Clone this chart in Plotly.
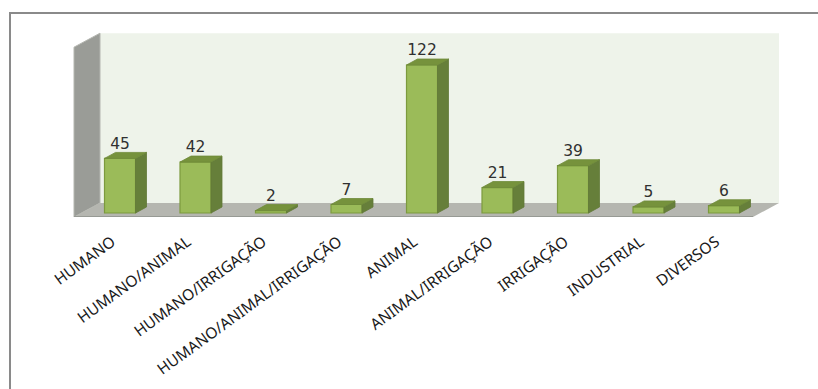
import plotly.graph_objects as go

categories = ["HUMANO", "HUMANO/ANIMAL", "HUMANO/IRRIGAÇÃO", "HUMANO/ANIMAL/IRRIGAÇÃO",
              "ANIMAL", "ANIMAL/IRRIGAÇÃO", "IRRIGAÇÃO", "INDUSTRIAL", "DIVERSOS"]
values = [45, 42, 2, 7, 122, 21, 39, 5, 6]

# Canvas and scale factors for the oblique 3D look
W, H = 818, 389
PX_PER_CAT = 75.5
PX_PER_UNIT = 1.213
AXIS_BOTTOM_PX = 217
ZERO_PX = 213
FIRST_CENTER_PX = 120

BAR_WIDTH = 31 / PX_PER_CAT
BAR_DX = 11 / PX_PER_CAT
BAR_DY = 6 / PX_PER_UNIT

FLOOR_X0 = (74 - FIRST_CENTER_PX) / PX_PER_CAT
FLOOR_X1 = (753 - FIRST_CENTER_PX) / PX_PER_CAT
FLOOR_Y0 = -(AXIS_BOTTOM_PX - ZERO_PX) / PX_PER_UNIT
FLOOR_DX = 26 / PX_PER_CAT
FLOOR_DY = 14 / PX_PER_UNIT
WALL_HEIGHT = 140

FRAME_LEFT_PX = 10
FRAME_TOP_PX = 13

x_idx = list(range(len(categories)))

x_range = [-FIRST_CENTER_PX / PX_PER_CAT, (W - FIRST_CENTER_PX) / PX_PER_CAT]
y_range = [FLOOR_Y0, ZERO_PX / PX_PER_UNIT]


def poly(points, **kw):
    path = "M " + " L ".join(f"{x},{y}" for x, y in points) + " Z"
    return dict(type="path", path=path, xref="x", yref="y", layer="below", **kw)


def paper_y(px):
    return (AXIS_BOTTOM_PX - px) / AXIS_BOTTOM_PX


fig = go.Figure()

# Front faces of the columns
fig.add_trace(go.Bar(
    x=x_idx, y=values, width=BAR_WIDTH,
    marker=dict(color="#9BBB59", line=dict(color="#7C9A3E", width=1.2)),
    hoverinfo="skip",
))

# Top and side faces, derived from each column's value
top_x, top_y, side_x, side_y = [], [], [], []
for i, v in zip(x_idx, values):
    l, r = i - BAR_WIDTH / 2, i + BAR_WIDTH / 2
    top_x += [l, r, r + BAR_DX, l + BAR_DX, l, None]
    top_y += [v, v, v + BAR_DY, v + BAR_DY, v, None]
    side_x += [r, r + BAR_DX, r + BAR_DX, r, r, None]
    side_y += [0, BAR_DY, v + BAR_DY, v, 0, None]

fig.add_trace(go.Scatter(x=side_x, y=side_y, mode="lines", fill="toself",
                         fillcolor="#667F3A", line=dict(color="#627A38", width=0.8),
                         hoverinfo="skip"))
fig.add_trace(go.Scatter(x=top_x, y=top_y, mode="lines", fill="toself",
                         fillcolor="#76923C", line=dict(color="#6F8A3A", width=0.8),
                         hoverinfo="skip"))

# Value labels above each column
fig.add_trace(go.Scatter(
    x=x_idx, y=[v + BAR_DY for v in values], mode="text",
    text=[str(v) for v in values], textposition="top center",
    textfont=dict(family="DejaVu Sans", size=15.5, color="#303030"),
    hoverinfo="skip",
))

wall_top = FLOOR_Y0 + FLOOR_DY + WALL_HEIGHT
wx0, wx1 = FLOOR_X0, FLOOR_X0 + FLOOR_DX
fx1 = FLOOR_X1
fy0, fy1 = FLOOR_Y0, FLOOR_Y0 + FLOOR_DY

frame_line = dict(color="#8A8A8A", width=2)
shapes = [
    # back wall
    poly([(wx1, fy1), (fx1 + FLOOR_DX, fy1), (fx1 + FLOOR_DX, wall_top), (wx1, wall_top)],
         fillcolor="#EEF3EA", line=dict(width=0)),
    # side wall
    poly([(wx0, fy0), (wx1, fy1), (wx1, wall_top), (wx0, wall_top - FLOOR_DY)],
         fillcolor="#9A9C97", line=dict(color="#B4B6B0", width=1)),
    # floor
    poly([(wx0, fy0), (fx1, fy0), (fx1 + FLOOR_DX, fy1), (wx1, fy1)],
         fillcolor="#B5B6B0", line=dict(width=0)),
    # front edge of the floor
    dict(type="line", xref="x", yref="y", x0=wx0, x1=fx1, y0=fy0, y1=fy0, layer="below",
         line=dict(color="#8E908B", width=1.5)),
    # outer frame, open on the right and at the bottom
    dict(type="line", xref="paper", yref="paper",
         x0=FRAME_LEFT_PX / W, x1=FRAME_LEFT_PX / W,
         y0=paper_y(H), y1=paper_y(FRAME_TOP_PX - 1), line=frame_line),
    dict(type="line", xref="paper", yref="paper",
         x0=FRAME_LEFT_PX / W, x1=1,
         y0=paper_y(FRAME_TOP_PX), y1=paper_y(FRAME_TOP_PX), line=frame_line),
]

fig.update_layout(
    width=W, height=H, autosize=False,
    margin=dict(l=0, r=0, t=0, b=H - AXIS_BOTTOM_PX),
    paper_bgcolor="white", plot_bgcolor="rgba(0,0,0,0)",
    showlegend=False, shapes=shapes,
    xaxis=dict(range=x_range, tickmode="array", tickvals=x_idx, ticktext=categories,
               tickangle=-36, ticklen=0, showgrid=False, zeroline=False, showline=False,
               ticklabelstandoff=12, ticklabelshift=-8,
               tickfont=dict(family="Noto Sans", size=15.5, color="#1a1a1a"), automargin=False),
    yaxis=dict(range=y_range, visible=False, showgrid=False, zeroline=False),
)

fig.write_html("out.html")
